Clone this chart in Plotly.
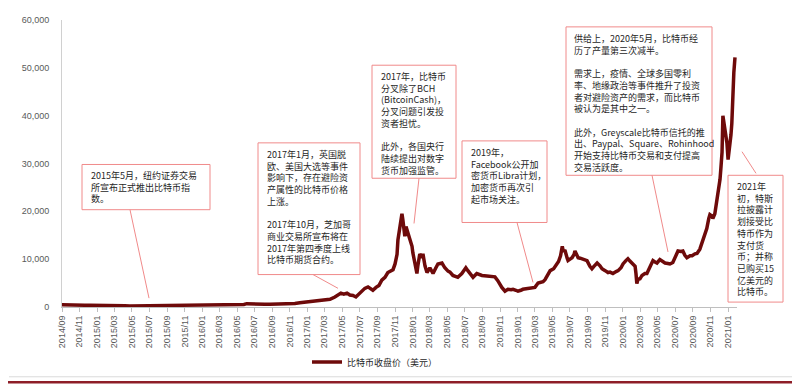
import plotly.graph_objects as go

# ---------------- data ----------------
dates = [
    "2014-09-01", "2014-09-15", "2014-09-29", "2014-10-16", "2014-11-02", "2014-11-19", "2014-12-07", "2014-12-24",
    "2015-01-11", "2015-01-28", "2015-02-15", "2015-03-04", "2015-03-21", "2015-04-07", "2015-04-25", "2015-05-12",
    "2015-05-30", "2015-06-16", "2015-07-03", "2015-07-21", "2015-08-07", "2015-08-24", "2015-09-11", "2015-09-28",
    "2015-10-16", "2015-11-02", "2015-11-12", "2015-11-26", "2015-12-10", "2015-12-24",
    "2016-01-10", "2016-01-28", "2016-02-14", "2016-03-03", "2016-03-20", "2016-04-07", "2016-04-24", "2016-05-11",
    "2016-05-25", "2016-06-04", "2016-06-15", "2016-07-02", "2016-07-20", "2016-08-06", "2016-08-23", "2016-09-10",
    "2016-09-27", "2016-10-14", "2016-11-01", "2016-11-18", "2016-12-05", "2016-12-22",
    "2017-01-09", "2017-01-26", "2017-02-13", "2017-03-02", "2017-03-20", "2017-04-06", "2017-04-17", "2017-04-27",
    "2017-05-07", "2017-05-18", "2017-05-28", "2017-06-08", "2017-06-18", "2017-06-29", "2017-07-09", "2017-07-19",
    "2017-07-30", "2017-08-09", "2017-08-16", "2017-08-27", "2017-09-06", "2017-09-16", "2017-09-27", "2017-10-07",
    "2017-10-18", "2017-10-25", "2017-11-01", "2017-11-08", "2017-11-11", "2017-11-18", "2017-11-25", "2017-11-28",
    "2017-12-02", "2017-12-05", "2017-12-09", "2017-12-16", "2017-12-23", "2017-12-30",
    "2018-01-02", "2018-01-09", "2018-01-16", "2018-01-19", "2018-01-23", "2018-01-26", "2018-02-02", "2018-02-06",
    "2018-02-13", "2018-02-20", "2018-03-02", "2018-03-13", "2018-03-23", "2018-03-30", "2018-04-13", "2018-04-23",
    "2018-05-04", "2018-05-11", "2018-05-21", "2018-06-01", "2018-06-07", "2018-06-21", "2018-07-01", "2018-07-05",
    "2018-07-12", "2018-07-19", "2018-07-30", "2018-08-12", "2018-08-30", "2018-09-16", "2018-10-04", "2018-10-14",
    "2018-10-24", "2018-11-01", "2018-11-07", "2018-11-18", "2018-11-28", "2018-12-09", "2018-12-16", "2018-12-26",
    "2019-01-02", "2019-01-12", "2019-01-19", "2019-01-30", "2019-02-06", "2019-02-16", "2019-03-02", "2019-03-13",
    "2019-03-20", "2019-03-30", "2019-04-06", "2019-04-17", "2019-04-24", "2019-05-06", "2019-05-13", "2019-05-23",
    "2019-05-30", "2019-06-02", "2019-06-05", "2019-06-08", "2019-06-15", "2019-06-22", "2019-06-25", "2019-07-02",
    "2019-07-09", "2019-07-16", "2019-07-19", "2019-07-26", "2019-07-30", "2019-08-06", "2019-08-13", "2019-08-23",
    "2019-08-30", "2019-09-09", "2019-09-16", "2019-09-23", "2019-10-04", "2019-10-14", "2019-10-21", "2019-11-01",
    "2019-11-11", "2019-11-18", "2019-11-28", "2019-12-09", "2019-12-16", "2019-12-26",
    "2020-01-02", "2020-01-12", "2020-01-19", "2020-01-26", "2020-02-06", "2020-02-13", "2020-02-16", "2020-02-19",
    "2020-02-23", "2020-03-01", "2020-03-08", "2020-03-18", "2020-03-25", "2020-04-05", "2020-04-12", "2020-04-15",
    "2020-04-22", "2020-04-29", "2020-05-09", "2020-05-16", "2020-05-27", "2020-06-06", "2020-06-13", "2020-06-23",
    "2020-06-30", "2020-07-07", "2020-07-11", "2020-07-21", "2020-07-28", "2020-08-04", "2020-08-11", "2020-08-22",
    "2020-08-29", "2020-09-08", "2020-09-15", "2020-09-25", "2020-10-02", "2020-10-05", "2020-10-12", "2020-10-19",
    "2020-10-26", "2020-10-30", "2020-11-06", "2020-11-09", "2020-11-16", "2020-11-23", "2020-11-27", "2020-12-04",
    "2020-12-07", "2020-12-11", "2020-12-14", "2020-12-18", "2020-12-21", "2020-12-25", "2020-12-28",
    "2021-01-01", "2021-01-04", "2021-01-07", "2021-01-11", "2021-01-14", "2021-01-18", "2021-01-21", "2021-01-25",
]

btc_close = [
    480, 430, 400, 380, 350, 380, 360, 320,
    270, 230, 240, 270, 260, 240, 230, 240,
    235, 230, 250, 285, 270, 230, 235, 240,
    260, 320, 380, 360, 420, 430,
    410, 380, 400, 430, 415, 420, 450, 460,
    530, 700, 650, 670, 620, 580, 600, 610,
    610, 640, 700, 740, 900, 1000,
    1050, 1150, 1250, 1400, 1600, 2100, 2600, 2900,
    2700, 2900, 2500, 2400, 2100, 2700, 3200, 3900,
    4200, 3700, 3500, 4100, 4500, 5600, 6200, 7200,
    7600, 7800, 9000, 11000, 14000, 17500, 19500, 18300,
    16000, 14800, 16800, 15400, 14000, 12700,
    11300, 9200, 7000, 8500, 10000, 11100, 10300, 11100,
    8600, 7200, 8200, 7000, 8200, 9000, 9200, 8200,
    7500, 7300, 6600, 6400, 6200, 7000, 8000, 8200,
    7600, 7000, 6200, 7000, 6600, 6500, 6400, 6300,
    5500, 4500, 4100, 3300, 3700, 3600, 3700, 3500,
    3300, 3500, 3700, 3800, 3900, 3900, 4100, 5000,
    5100, 5300, 5700, 7000, 7600, 8000, 8600, 9500,
    10700, 12000, 12700, 11800, 11700, 10200, 9700, 10000,
    10300, 11000, 11700, 10800, 10300, 10200, 10100, 9800,
    9700, 8500, 8000, 8500, 9200, 8600, 8000, 7600,
    7200, 7300, 7000, 7400, 7600, 8200,
    9000, 9700, 10100, 9600, 9000, 8500, 7000, 4900,
    5800, 5900, 6600, 7000, 7000, 8600, 9200, 9700,
    9400, 9200, 9900, 9600, 9200, 9100, 9000, 9300,
    10100, 11200, 11700, 11600, 11700, 10800, 10300, 10700,
    10700, 11100, 11200, 12100, 13300, 13800, 15500, 16400,
    18500, 19300, 19000, 18500, 19500, 22000, 23500, 26700,
    29000, 32300, 40000, 38500, 37800, 35500, 34300,
    30800, 32000, 34300, 36000, 38400, 47000, 49000, 52200,
]
assert len(dates) == len(btc_close)

series_name = "比特币收盘价（美元）"

# annotation texts, one list of lines per box ("" = blank line)
notes = [
    ["2015年5月，纽约证券交易", "所宣布正式推出比特币指", "数。"],
    ["2017年1月，英国脱", "欧、美国大选等事件", "影响下，存在避险资", "产属性的比特币价格", "上涨。", "",
     "2017年10月，芝加哥", "商业交易所宣布将在", "2017年第四季度上线", "比特币期货合约。"],
    ["2017年，比特币", "分叉除了BCH", "(BitcoinCash)，", "分叉问题引发投", "资者担忧。", "",
     "此外，各国央行", "陆续提出对数字", "货币加强监管。"],
    ["2019年，", "Facebook公开加", "密货币Libra计划，", "加密货币再次引", "起市场关注。"],
    ["供给上，2020年5月，比特币经", "历了产量第三次减半。", "",
     "需求上，疫情、全球多国零利", "率、地缘政治等事件推升了投资", "者对避险资产的需求，而比特币", "被认为是其中之一。", "",
     "此外，Greyscale比特币信托的推", "出、Paypal、Square、Rohinhood", "开始支持比特币交易和支付提高", "交易活跃度。"],
    ["2021年", "初，特斯", "拉披露计", "划接受比", "特币作为", "支付货", "币；并称", "已购买15", "亿美元的", "比特币。"],
]

# ---------------- layout helpers ----------------
# The page body has an 8px margin, so the figure is sized to fill the
# 800x385 window from (8, 8).  Helpers take window-pixel coordinates.
BODY = 8
W, H = 800 - BODY, 385 - BODY
X0, X1, Y0, Y1 = 62, 737, 15, 307          # plot area in window pixels
ML, MR, MT, MB = X0 - BODY, 800 - X1, Y0 - BODY, 385 - Y1
PW, PH = X1 - X0, Y1 - Y0


def px(x):
    return (x - X0) / PW


def py(y):
    return (Y1 - y) / PH


LINE_COLOR = "#6E0A0A"
BOX_COLOR = "#F08A8A"
CJK = "Noto Sans CJK SC"

fig = go.Figure()
fig.add_trace(go.Scatter(
    x=dates, y=btc_close, mode="lines", name=series_name,
    line=dict(color=LINE_COLOR, width=3.5),
))

shapes = []
# outer frame (right and bottom visible parts)
shapes.append(dict(type="line", xref="paper", yref="paper", x0=px(797), x1=px(797), y0=py(378), y1=py(9),
                   line=dict(color="#DADADA", width=1), layer="below"))
shapes.append(dict(type="line", xref="paper", yref="paper", x0=px(9), x1=px(797), y0=py(378), y1=py(378),
                   line=dict(color="#DADADA", width=1), layer="below"))
shapes.append(dict(type="line", xref="paper", yref="paper", x0=px(8), x1=px(800), y0=py(383.5), y1=py(383.5),
                   line=dict(color="#8E1E28", width=2.5)))

# annotation boxes: (left, top, right, bottom), text origin (x, first-line centre y), pointer line
boxes = [
    ((82, 162, 210, 208), (89, 172), ((130, 208), (149, 298))),
    ((258, 140, 360, 274), (265, 150), ((313, 274), (338, 288))),
    ((372, 61, 456, 176), (379, 71), ((419, 176), (414, 222))),
    ((462, 138, 547, 221), (469, 148), ((517, 221), (533, 282))),
    ((566, 22, 712, 173), (572, 32), ((652, 173), (668, 251))),
    ((728, 173, 783, 302), (735, 183), ((742, 149), (756, 171))),
]

annotations = []
for ((l, t, r, b), (tx, ty), ((ax0, ay0), (ax1, ay1))), lines in zip(boxes, notes):
    shapes.append(dict(type="rect", xref="paper", yref="paper", x0=px(l), x1=px(r), y0=py(b), y1=py(t),
                       line=dict(color=BOX_COLOR, width=1), fillcolor="white", layer="above"))
    shapes.append(dict(type="line", xref="paper", yref="paper", x0=px(ax0), x1=px(ax1), y0=py(ay0), y1=py(ay1),
                       line=dict(color=BOX_COLOR, width=1)))
    annotations.append(dict(
        xref="paper", yref="paper", x=px(tx), y=py(ty - 7), xanchor="left", yanchor="top",
        text="<br>".join(ln if ln else " " for ln in lines), showarrow=False, align="left",
        font=dict(family=CJK, size=9, color="#262626"),
    ))

fig.update_layout(
    width=W, height=H,
    margin=dict(l=ML, r=MR, t=MT, b=MB, pad=0),
    paper_bgcolor="white", plot_bgcolor="white",
    font=dict(family=CJK, size=9, color="#595959"),
    showlegend=True,
    legend=dict(orientation="h", x=px(307), y=py(363), xanchor="left", yanchor="middle",
                font=dict(family=CJK, size=9, color="#262626"), bgcolor="rgba(0,0,0,0)"),
    shapes=shapes,
    annotations=annotations,
    xaxis=dict(
        type="date", range=["2014-09-01", "2021-02-01"],
        tick0="2014-09-01", dtick="M2", tickformat="%Y/%m", tickangle=-90,
        showgrid=False, zeroline=False, showline=True, linecolor="#BFBFBF", linewidth=1,
        ticks="outside", ticklen=4, tickcolor="#BFBFBF",
        tickfont=dict(family="Liberation Sans", size=9, color="#595959"),
    ),
    yaxis=dict(
        range=[0, 60000], dtick=10000, tickformat=",",
        showgrid=False, zeroline=False, showline=True, linecolor="#D0D0D0", linewidth=1,
        ticks="", ticklabelstandoff=10,
        tickfont=dict(family="Liberation Sans", size=9, color="#595959"),
    ),
)

fig.write_html("out.html")
